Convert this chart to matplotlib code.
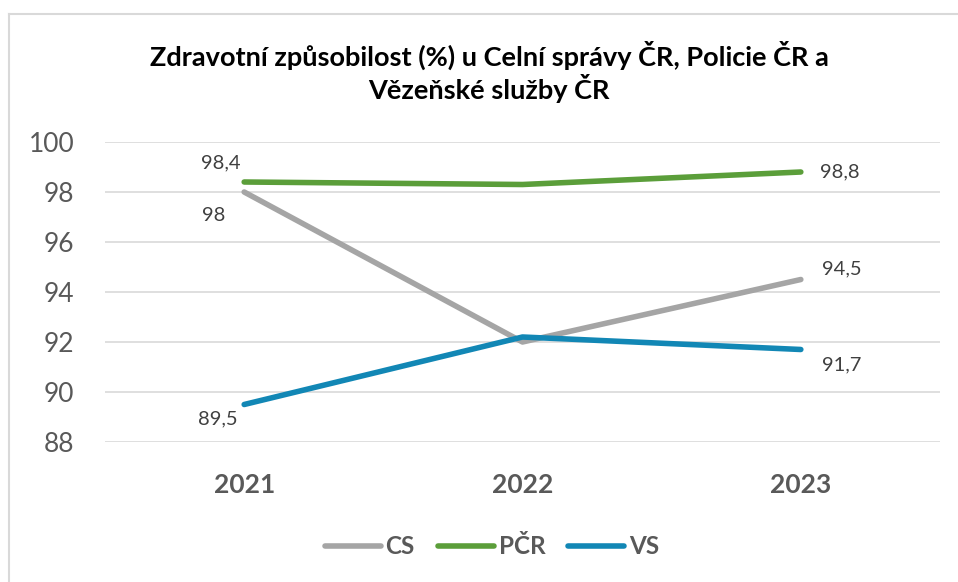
import matplotlib
matplotlib.use("Agg")
import matplotlib.pyplot as plt
from matplotlib.lines import Line2D

years = ["2021", "2022", "2023"]
cs = [98.0, 92.0, 94.5]
pcr = [98.4, 98.3, 98.8]
vs = [89.5, 92.2, 91.7]
series_names = ["CS", "PČR", "VS"]
yticks = [88, 90, 92, 94, 96, 98, 100]
title = "Zdravotní způsobilost (%) u Celní správy ČR, Policie ČR a\nVězeňské služby ČR"

colors = {"CS": "#A5A5A5", "PČR": "#5B9E3A", "VS": "#1287B5"}

plt.rcParams['font.family'] = ['Lato', 'DejaVu Sans']

W, H = 958, 582
fig = plt.figure(figsize=(W / 100, H / 100), dpi=100)
ax = fig.add_axes([105 / W, 1 - 442 / H, (940 - 105) / W, (442 - 142) / H])

x = list(range(len(years)))
data = {"CS": cs, "PČR": pcr, "VS": vs}
for name in series_names:
    ax.plot(x, data[name], color=colors[name], lw=4, solid_capstyle='round', zorder=3)

ax.set_xlim(-0.5, 2.5)
ax.set_ylim(88, 100)
ax.set_yticks(yticks)
ax.set_yticklabels([str(t) for t in yticks], fontsize=19, color="#595959")
ax.set_xticks(x)
ax.set_xticklabels(years, fontsize=19, fontweight='bold', color="#595959")
ax.tick_params(axis='both', length=0)
ax.tick_params(axis='y', pad=22)
ax.tick_params(axis='x', pad=22)
ax.grid(axis='y', color="#D9D9D9", lw=1.2, zorder=0)
for s in ax.spines.values():
    s.set_visible(False)

def fmt(v):
    return ("%g" % v).replace(".", ",")

lab_kw = dict(fontsize=14.5, color="#404040", zorder=4, textcoords='offset points', va='center')
# 2021 labels (left side)
ax.annotate(fmt(pcr[0]), (x[0], pcr[0]), xytext=(-17, 14), ha='center', **lab_kw)
ax.annotate(fmt(cs[0]), (x[0], cs[0]), xytext=(-22, -17), ha='center', **lab_kw)
ax.annotate(fmt(vs[0]), (x[0], vs[0]), xytext=(-19, -10), ha='center', **lab_kw)
# 2023 labels (right side)
ax.annotate(fmt(pcr[2]), (x[2], pcr[2]), xytext=(14, 0), ha='left', **lab_kw)
ax.annotate(fmt(cs[2]), (x[2], cs[2]), xytext=(15, 7.5), ha='left', **lab_kw)
ax.annotate(fmt(vs[2]), (x[2], vs[2]), xytext=(15, -11), ha='left', **lab_kw)

fig.text(489 / W, 1 - 72 / H, title, ha='center', va='center', fontsize=19.5, fontweight='bold',
         color="black", linespacing=1.15)

handles = [Line2D([0], [0], color=colors[n], lw=4, solid_capstyle='round') for n in series_names]
leg = fig.legend(handles, series_names, loc='center', bbox_to_anchor=(492 / W, 1 - 547 / H),
                 ncol=3, frameon=False, handlelength=2.3, handletextpad=0.2, columnspacing=0.95,
                 prop={'size': 17.5, 'weight': 'bold'})
for t in leg.get_texts():
    t.set_color("#595959")

# outer frame
fig.add_artist(Line2D([9 / W, 1], [1 - 13.5 / H, 1 - 13.5 / H], color="#D9D9D9", lw=1.5, transform=fig.transFigure))
fig.add_artist(Line2D([9 / W, 9 / W], [0, 1 - 13.5 / H], color="#D9D9D9", lw=1.5, transform=fig.transFigure))

fig.savefig("out.png", dpi=100, facecolor="white")
